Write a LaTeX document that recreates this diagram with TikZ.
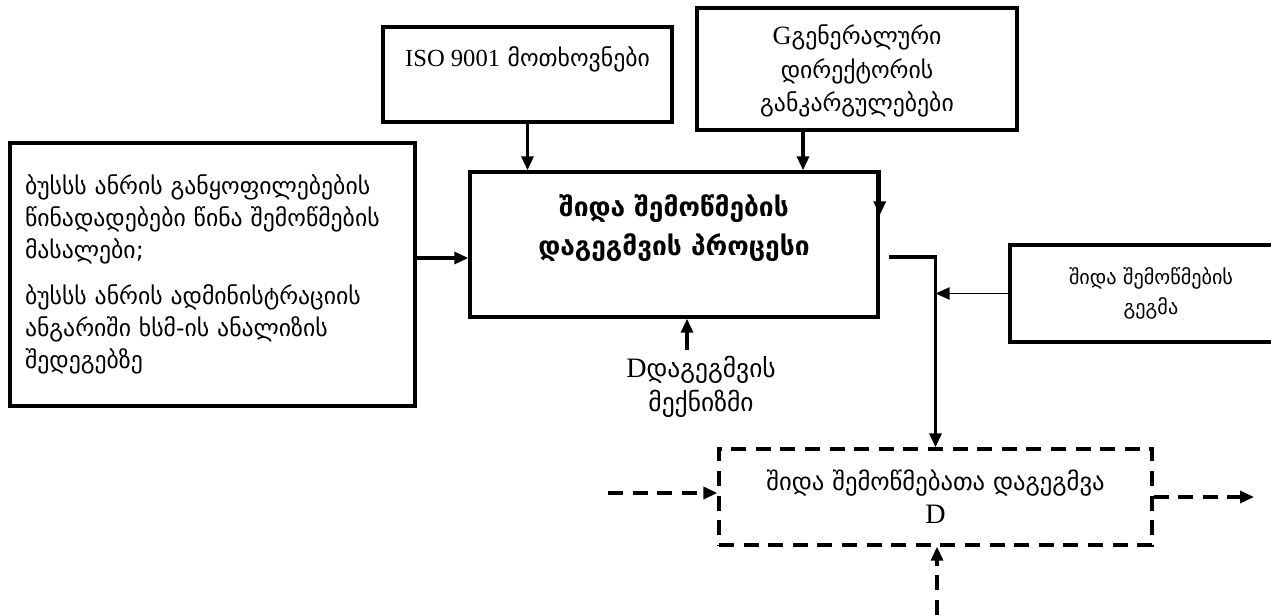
\documentclass[tikz,border=0pt]{standalone}
\usepackage{fontspec}
\setmainfont{DejaVu Sans}
\newfontfamily\lserif{Liberation Serif}
\usetikzlibrary{positioning,arrows.meta,calc}

\begin{document}
\begin{tikzpicture}[x=0.02cm, y=-0.02cm,
    box/.style={rectangle, draw, line width=2pt, align=center},
    dbox/.style={rectangle, draw, line width=1.9pt, dash pattern=on 8.5pt off 5.5pt, align=center},
    arrow/.style={-{Triangle[length=0.28cm,width=0.24cm]}, line width=1.9pt},
    darrow/.style={arrow, line width=1.9pt, dash pattern=on 8.5pt off 5.5pt},
    txt/.style={align=center, font=\fontsize{13.5}{19}\selectfont}
]
    \useasboundingbox (0,0) rectangle (1271,615);

    % Boxes
    \node[box, minimum width=8.1cm, minimum height=5.26cm, align=left, text width=7.5cm,
          font=\fontsize{13.5}{18.2}\selectfont] (inputs) at (212.5,274.5)
        {ბუსსს ანრის განყოფილებების\\წინადადებები წინა შემოწმების\\მასალები;\\[8pt]
         ბუსსს ანრის ადმინისტრაციის\\ანგარიში ხსმ-ის ანალიზის\\შედეგებზე};
    \node[box, minimum width=5.78cm, minimum height=1.9cm,
          label={[txt, anchor=north, yshift=-0.3cm]north:{{\lserif\fontsize{14}{19}\selectfont ISO 9001} მოთხოვნები}}] (iso) at (527.5,74.5) {};
    \node[box, minimum width=6.4cm, minimum height=2.44cm,
          label={[txt, yshift=-0.04cm]center:{{\lserif\fontsize{15}{19}\selectfont G}გენერალური\\დირექტორის\\განკარგულებები}}] (gen) at (857,69) {};
    \node[box, minimum width=8.16cm, minimum height=2.9cm,
          label={[txt, yshift=0.33cm, font=\bfseries\fontsize{15}{22}\selectfont]center:{შიდა შემოწმების\\დაგეგმვის პროცესი}}] (main) at (674,244.5) {};
    \node[box, minimum width=5.64cm, minimum height=1.94cm, font=\fontsize{11.5}{17}\selectfont] (plan) at (1151,293.5)
        {შიდა შემოწმების\\გეგმა};
    \node[dbox, minimum width=8.66cm, minimum height=1.92cm, font=\fontsize{14}{19}\selectfont] (out) at (935.5,497)
        {შიდა შემოწმებათა დაგეგმვა\\{\lserif\fontsize{16}{19}\selectfont D}};
    \node[txt, font=\fontsize{14.5}{19}\selectfont] (mech) at (701,387)
        {{\lserif\fontsize{16}{19}\selectfont D}დაგეგმვის\\მექნიზმი};

    % Free ends
    \coordinate (din) at (608,493);
    \coordinate (dout) at (1254,497);
    \coordinate (dbot) at (937,615);

    % Connections
    \draw[arrow] ([yshift=0.33cm]inputs.east) -- ([yshift=0.33cm]inputs.east -| main.west);
    \draw[arrow] (iso.south) -- (iso.south |- main.north);
    \draw[arrow] ([xshift=-1.08cm]gen.south) -- ([xshift=-1.08cm]gen.south |- main.north);
    \draw[arrow] (main.north east) -- ([yshift=-0.9cm]main.north east);
    \draw[arrow] ([xshift=0.18cm,yshift=-0.25cm]main.east) -| (out.north);
    \draw[arrow, line width=1.1pt] (plan.west) -- (plan.west -| out.north);
    \draw[arrow] ([xshift=-0.28cm]mech.north) -- ([xshift=-0.28cm]mech.north |- main.south);

    % Dashed flows
    \draw[darrow] (din) -- (din -| out.west);
    \draw[darrow] (out.east) -- (dout);
    \draw[darrow] (dbot) -- (dbot |- out.south);
\end{tikzpicture}
\end{document}
